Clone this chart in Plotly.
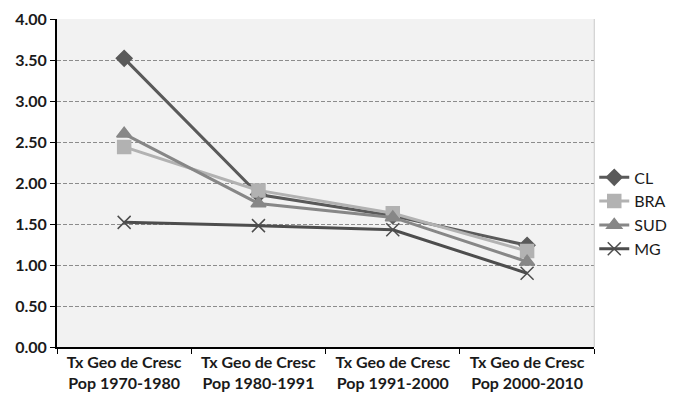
import plotly.graph_objects as go

categories = ["Tx Geo de Cresc<br>Pop 1970-1980", "Tx Geo de Cresc<br>Pop 1980-1991",
              "Tx Geo de Cresc<br>Pop 1991-2000", "Tx Geo de Cresc<br>Pop 2000-2010"]
cl = [3.52, 1.86, 1.60, 1.24]
bra = [2.44, 1.91, 1.63, 1.17]
sud = [2.60, 1.75, 1.58, 1.04]
mg = [1.52, 1.48, 1.43, 0.90]

series = [
    ("CL", cl, "#5a5a5a", "diamond", 12),
    ("BRA", bra, "#b2b2b2", "square", 13),
    ("SUD", sud, "#878787", "triangle-up", 13),
    ("MG", mg, "#4d4d4d", "x-thin", 13),
]

fig = go.Figure()
for name, vals, color, sym, size in series:
    fig.add_trace(go.Scatter(
        x=categories, y=vals, name=name, mode="lines+markers",
        line=dict(color=color, width=3),
        marker=dict(symbol=sym, size=size, color=color,
                    line=dict(color=color, width=1.5)),
    ))

fig.update_layout(
    width=670, height=395,
    margin=dict(l=49, r=79, t=11, b=56),
    paper_bgcolor="white", plot_bgcolor="#f2f2f2",
    font=dict(family="Lato", size=16, color="#1a1a1a"),
    showlegend=True,
    legend=dict(xref="container", yref="container", x=0.875, y=0.48,
                xanchor="left", yanchor="middle",
                font=dict(family="Lato", size=16, color="#1a1a1a"), tracegroupgap=0,
                itemwidth=30, bgcolor="rgba(0,0,0,0)"),
)
fig.update_yaxes(
    range=[0, 4], dtick=0.5, tickformat=".2f", automargin=False,
    showgrid=True, gridcolor="#8c8c8c", griddash="4px,2px", gridwidth=1,
    showline=True, linecolor="black", linewidth=2,
    ticks="outside", ticklen=5, tickcolor="black",
    tickfont=dict(family="Lato", size=16, color="#1a1a1a", weight="bold"),
    zeroline=False,
)
fig.update_xaxes(
    range=[-0.5, 3.5],
    showline=True, linecolor="black", linewidth=2, mirror=False, automargin=False,
    ticks="outside", tickson="boundaries", ticklen=5, tickcolor="black",
    tickfont=dict(family="Lato", size=16, color="#1a1a1a", weight="bold"),
    showgrid=False,
)
fig.add_shape(type="line", xref="paper", yref="paper", x0=1, x1=1, y0=0, y1=1,
              line=dict(color="#c8c8c8", width=1))

fig.write_html("out.html")
